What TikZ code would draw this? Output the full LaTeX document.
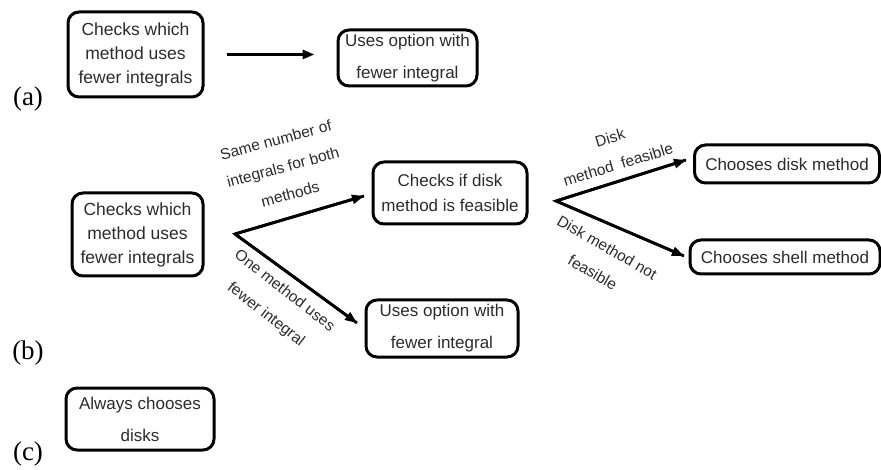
\documentclass[tikz,border=0pt]{standalone}
\usepackage{fontspec}
\setmainfont{Liberation Sans}
\newfontfamily\labfont{Liberation Serif}
\usetikzlibrary{arrows.meta}
\definecolor{txt}{HTML}{2B2B2B}
\tikzset{
  box/.style={draw=black, line width=3pt, rounded corners=11pt, align=center,
    inner sep=0pt, text=txt, font=\fontsize{17.5}{24}\selectfont},
  wide/.style={font=\fontsize{17}{32}\selectfont},
  arr/.style={line width=2.8pt, -{Triangle[length=12pt,width=9pt]}},
  elab/.style={align=center, text=txt, inner sep=0pt, font=\fontsize{15.5}{28}\selectfont},
  plab/.style={inner sep=0pt, font=\labfont\fontsize{27}{30}\selectfont}
}
\begin{document}
\begin{tikzpicture}[x=1pt,y=-1pt]
\useasboundingbox (0,0) rectangle (881,470);
% (a)
\node[plab] (la) at (28,99) {(a)};
\node[box, minimum width=135pt, minimum height=85pt] (a1) at (135.5,54.5) {Checks which\\method uses\\fewer integrals};
\node[box, wide, minimum width=139pt, minimum height=56pt] (a2) at (407.5,58) {Uses option with\\fewer integral};
\draw[arr, shorten <=22pt, shorten >=22pt] (a1.east) -- (a1.east -| a2.west);
% (b)
\node[plab] (lb) at (28,353) {(b)};
\node[box, minimum width=131pt, minimum height=83pt] (b1) at (137.5,234.5) {Checks which\\method uses\\fewer integrals};
\node[box, font=\fontsize{17}{25}\selectfont, minimum width=154pt, minimum height=62pt] (b2) at (450,193) {Checks if disk\\method is feasible};
\node[box, wide, minimum width=152pt, minimum height=57pt] (b3) at (442,328.5) {Uses option with\\fewer integral};
\node[box, font=\fontsize{17}{24}\selectfont, minimum width=185pt, minimum height=38pt] (b4) at (787,164) {Chooses disk method};
\node[box, font=\fontsize{17}{24}\selectfont, minimum width=190pt, minimum height=34pt] (b5) at (785,257) {Chooses shell method};
\coordinate (j1) at (235,234);
\coordinate (j2) at (556,201);
\coordinate (e1) at (364,196);
\coordinate (e2) at (357,323);
\coordinate (e3) at (686,160);
\coordinate (e4) at (684,256);
\draw[line width=2.8pt, line join=miter] (e1) -- (j1) -- (e2);
\draw[arr] (j1) -- (e1);
\draw[arr] (j1) -- (e2);
\draw[line width=2.8pt, line join=miter] (e3) -- (j2) -- (e4);
\draw[arr] (j2) -- (e3);
\draw[arr] (j2) -- (e4);
\node[elab, rotate=15] (l1) at (283,167) {Same number of\\integrals for both\\methods};
\node[elab, rotate=-38, font=\fontsize{15.5}{30}\selectfont] (l2) at (275,303) {One method uses\\fewer integral};
\node[elab, rotate=17] (l3) at (614,151) {Disk\\method~~feasible};
\node[elab, rotate=-30, font=\fontsize{15.5}{29}\selectfont] (l4) at (600,260) {Disk method not\\feasible};
% (c)
\node[plab] (lc) at (28,454) {(c)};
\node[box, wide, minimum width=148pt, minimum height=62pt] (c1) at (140,419) {Always chooses\\disks};
\end{tikzpicture}
\end{document}
